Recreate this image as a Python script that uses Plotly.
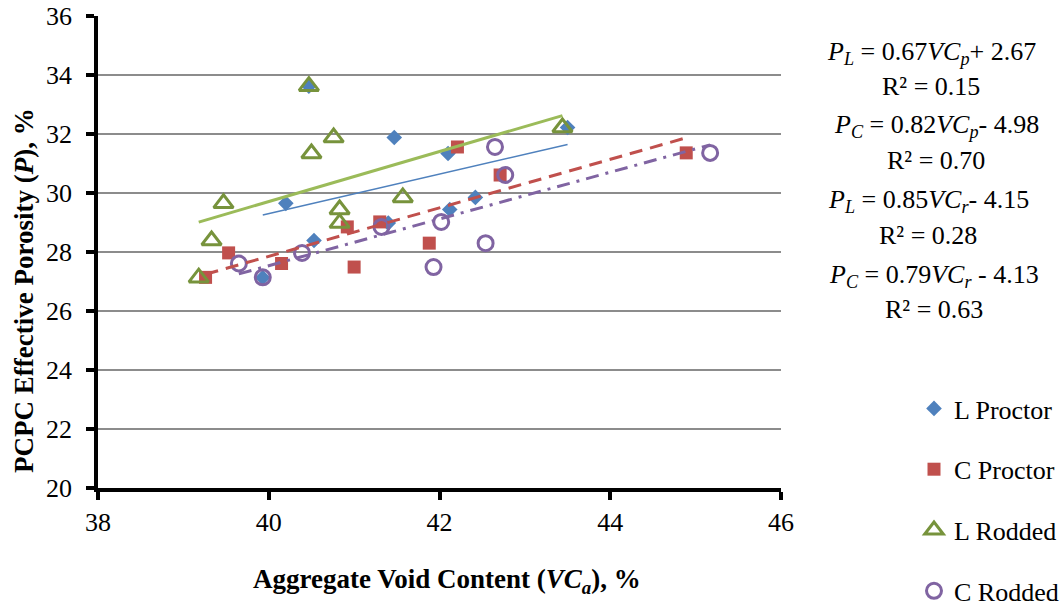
import numpy as np
import plotly.graph_objects as go

# ---- data ----
# effective porosity (%) of the L and C mixes (shared by Proctor / Rodded)
porosity_L = [27.13, 29.65, 33.62, 28.39, 28.98, 31.88, 31.34, 29.44, 29.85, 32.22]
porosity_C = [27.14, 27.97, 27.61, 28.85, 27.49, 29.02, 28.30, 31.56, 30.61, 31.36]
# aggregate void content (%)
vc_L_proctor = [39.93, 40.20, 40.47, 40.53, 41.40, 41.47, 42.10, 42.12, 42.42, 43.50]
vc_L_rodded = [39.18, 39.47, 40.47, 39.33, 40.83, 40.76, 40.50, 40.83, 41.57, 43.44]
vc_C_proctor = [39.26, 39.53, 40.15, 40.92, 41.00, 41.30, 41.88, 42.21, 42.71, 44.89]
vc_C_rodded = [39.93, 40.39, 39.65, 41.32, 41.93, 42.02, 42.54, 42.65, 42.77, 45.17]

series_names = ["L Proctor", "C Proctor", "L Rodded", "C Rodded"]

equation_lines = [
    ("<i>P</i><sub><i>L</i></sub> = 0.67<i>VC</i><sub><i>p</i></sub>+ 2.67", "R² = 0.15"),
    ("<i>P</i><sub><i>C</i></sub> = 0.82<i>VC</i><sub><i>p</i></sub>- 4.98", "R² = 0.70"),
    ("<i>P</i><sub><i>L</i></sub> = 0.85<i>VC</i><sub><i>r</i></sub>- 4.15", "R² = 0.28"),
    ("<i>P</i><sub><i>C</i></sub> = 0.79<i>VC</i><sub><i>r</i></sub> - 4.13", "R² = 0.63"),
]

FONT = "Liberation Serif"
W, H = 1063, 608
L, R, T, B = 98, 1063 - 781, 16, 608 - 488
PW, PH = W - L - R, H - T - B


def px2x(px):
    return (px - L) / PW


def px2y(py):
    return (H - B - py) / PH


series = [
    (vc_L_proctor, porosity_L, dict(symbol="diamond", size=12, color="#4F81BD")),
    (vc_C_proctor, porosity_C, dict(symbol="square", size=13, color="#C0504D")),
    (vc_L_rodded, porosity_L, dict(symbol="triangle-up-open", size=17, color="#77933C",
                                   line=dict(width=3, color="#77933C"))),
    (vc_C_rodded, porosity_C, dict(symbol="circle-open", size=15, color="#8064A2",
                                   line=dict(width=3, color="#8064A2"))),
]

trend_styles = [
    dict(color="#4F81BD", width=1.5, dash="solid"),
    dict(color="#C0504D", width=3, dash="13px,8px"),
    dict(color="#9BBB59", width=3, dash="solid"),
    dict(color="#8064A2", width=3, dash="13px,7px,3px,7px"),
]

fig = go.Figure()

for name, (xs, ys, mk) in zip(series_names, series):
    fig.add_trace(go.Scatter(x=xs, y=ys, mode="markers", name=name, marker=mk,
                             legendgroup=name, showlegend=True))

for name, (xs, ys, mk), st in zip(series_names, series, trend_styles):
    slope, icpt = np.polyfit(xs, ys, 1)
    tx = np.array([min(xs), max(xs)])
    fig.add_trace(go.Scatter(x=tx, y=slope * tx + icpt, mode="lines", line=st,
                             showlegend=False, hoverinfo="skip", legendgroup=name + "_t"))

annotations = []
eq_centers_x = [931, 936, 928, 934]
eq_centers_y = [(53, 86), (126, 161), (201, 235), (276, 309)]
for (l1, l2), cx, (y1, y2) in zip(equation_lines, eq_centers_x, eq_centers_y):
    for txt, yy in ((l1, y1), (l2, y2)):
        annotations.append(dict(text=txt, xref="paper", yref="paper", x=px2x(cx), y=px2y(yy),
                                xanchor="center", yanchor="middle", showarrow=False,
                                font=dict(family=FONT, size=26, color="black")))

annotations.append(dict(text="<b>PCPC Effective Porosity (<i>P</i>), %</b>", xref="paper", yref="paper",
                        x=px2x(24), y=px2y(291), textangle=-90, xanchor="center", yanchor="middle",
                        showarrow=False, font=dict(family=FONT, size=27, color="black")))
annotations.append(dict(text="<b>Aggregate Void Content (<i>VC</i><sub><i>a</i></sub>), %</b>",
                        xref="paper", yref="paper", x=px2x(447), y=px2y(581),
                        xanchor="center", yanchor="middle", showarrow=False,
                        font=dict(family=FONT, size=27, color="black")))

fig.update_layout(
    width=W, height=H,
    margin=dict(l=L, r=R, t=T, b=B, autoexpand=False),
    plot_bgcolor="white", paper_bgcolor="white",
    font=dict(family=FONT, size=26, color="black"),
    showlegend=True,
    legend=dict(x=px2x(914), y=px2y(385), xanchor="left", yanchor="top",
                font=dict(family=FONT, size=26, color="black"),
                tracegroupgap=24, bgcolor="rgba(0,0,0,0)", itemsizing="trace"),
    annotations=annotations,
    xaxis=dict(range=[38, 46], tick0=38, dtick=2, showline=True, linecolor="black", linewidth=3.5,
               ticks="outside", ticklen=8, tickwidth=3.5, tickcolor="black", showgrid=False,
               zeroline=False, tickfont=dict(family=FONT, size=26), ticklabelstandoff=0,
               automargin=False),
    yaxis=dict(range=[20, 36], tick0=20, dtick=2, showline=True, linecolor="black", linewidth=3.5,
               ticks="outside", ticklen=8, tickwidth=3.5, tickcolor="black", showgrid=True,
               gridcolor="#8c8c8c", gridwidth=1.5, zeroline=False,
               tickfont=dict(family=FONT, size=26), ticklabelstandoff=9, automargin=False),
)

fig.write_html("out.html")
